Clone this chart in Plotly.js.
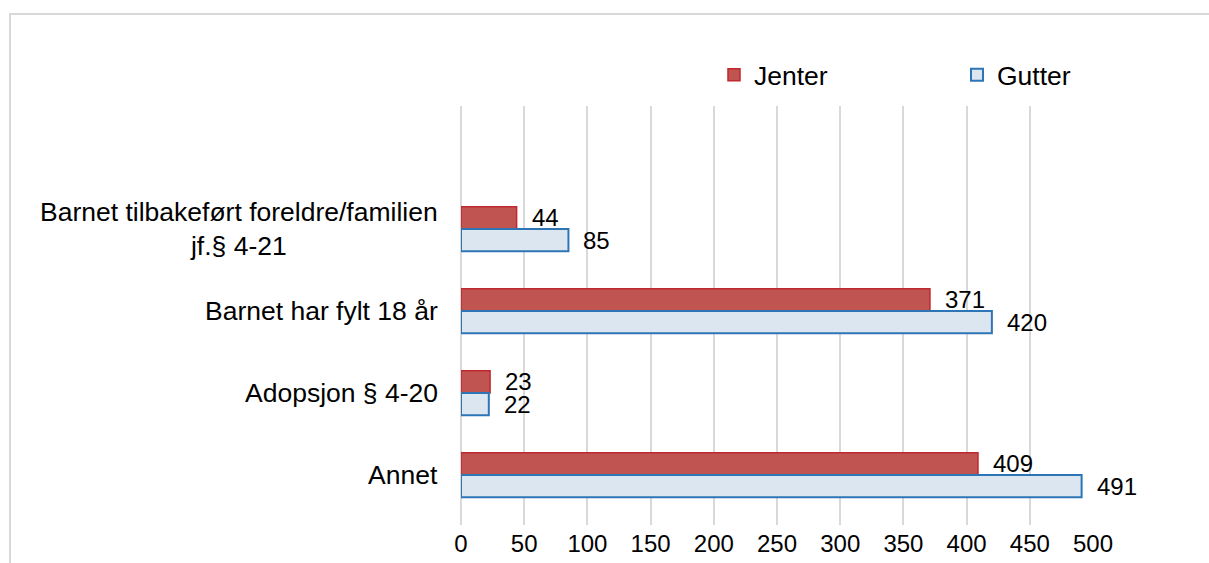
<!DOCTYPE html>
<html>
<head>
<meta charset="utf-8">
<script src="https://cdn.plot.ly/plotly-3.0.1.min.js"></script>
<style>
  html, body { margin: 0; padding: 0; background: #fff; }
  #wrap { position: relative; width: 1209px; height: 563px; overflow: hidden; }
  #chart { width: 1209px; height: 563px; }
  #frame { position: absolute; left: 9px; top: 13px; width: 1300px; height: 700px;
           border-top: 2px solid #D9D9D9; border-left: 2px solid #D9D9D9; pointer-events: none; }
</style>
</head>
<body>
<div id="wrap">
  <div id="chart"></div>
  <div id="frame"></div>
</div>
<script>
const categories = [
  "Barnet tilbakeført foreldre/familien<br>jf.§ 4-21",
  "Barnet har fylt 18 år",
  "Adopsjon § 4-20",
  "Annet"
];
const jenter = [44, 371, 23, 409];
const gutter = [85, 420, 22, 491];
const seriesNames = ["Jenter", "Gutter"];
const xTicks = [0, 50, 100, 150, 200, 250, 300, 350, 400, 450, 500];

const FONT = "Liberation Sans, Arial, sans-serif";

const traces = [
  {
    type: "bar", orientation: "h", name: seriesNames[0], legend: "legend",
    y: categories, x: jenter,
    marker: { color: "#BF5451", line: { color: "#C0282E", width: 1.5 } },
    hoverinfo: "skip"
  },
  {
    type: "bar", orientation: "h", name: seriesNames[1], legend: "legend2",
    y: categories, x: gutter,
    marker: { color: "#DCE6F1", line: { color: "#2E75B6", width: 2 } },
    hoverinfo: "skip"
  }
];

const annotations = [];
categories.forEach((c, i) => {
  annotations.push({
    xref: "paper", yref: "y", x: 0, y: c, xanchor: "right", yanchor: "middle",
    xshift: -21, text: c, showarrow: false, align: "center",
    font: { family: FONT, size: 26.5, color: "#000" }
  });
  annotations.push({
    xref: "x", yref: "y", x: jenter[i], y: c, xanchor: "left", yanchor: "middle",
    xshift: 13, yshift: 11.5, text: String(jenter[i]), showarrow: false,
    font: { family: FONT, size: 24, color: "#000" }
  });
  annotations.push({
    xref: "x", yref: "y", x: gutter[i], y: c, xanchor: "left", yanchor: "middle",
    xshift: 13, yshift: -11.5, text: String(gutter[i]), showarrow: false,
    font: { family: FONT, size: 24, color: "#000" }
  });
});

const legendBase = {
  orientation: "h", y: 1.074, xanchor: "left", yanchor: "middle",
  font: { family: FONT, size: 26.5, color: "#000" }, bgcolor: "rgba(0,0,0,0)"
};

const layout = {
  width: 1209, height: 563,
  margin: { l: 461, r: 116, t: 106, b: 38 },
  paper_bgcolor: "#fff", plot_bgcolor: "#fff",
  font: { family: FONT, color: "#000" },
  barmode: "group", bargap: 0.456, bargroupgap: 0,
  showlegend: true,
  legend: Object.assign({}, legendBase, { x: 0.4003 }),
  legend2: Object.assign({}, legendBase, { x: 0.7848 }),
  xaxis: {
    range: [0, 500], tickvals: xTicks, ticktext: xTicks.map(String),
    showgrid: true, gridcolor: "#D9D9D9", gridwidth: 2,
    zeroline: true, zerolinecolor: "#D9D9D9", zerolinewidth: 2,
    showline: false, ticks: "", ticklabelstandoff: 2,
    tickfont: { family: FONT, size: 24, color: "#000" }, fixedrange: true
  },
  yaxis: {
    type: "category", categoryorder: "array", categoryarray: categories,
    range: [3.61, -1.5], autorange: false,
    showticklabels: false, showgrid: false, zeroline: false, showline: false,
    ticks: "", fixedrange: true
  },
  annotations: annotations
};

Plotly.newPlot("chart", traces, layout, { displayModeBar: false, staticPlot: true });
</script>
</body>
</html>
